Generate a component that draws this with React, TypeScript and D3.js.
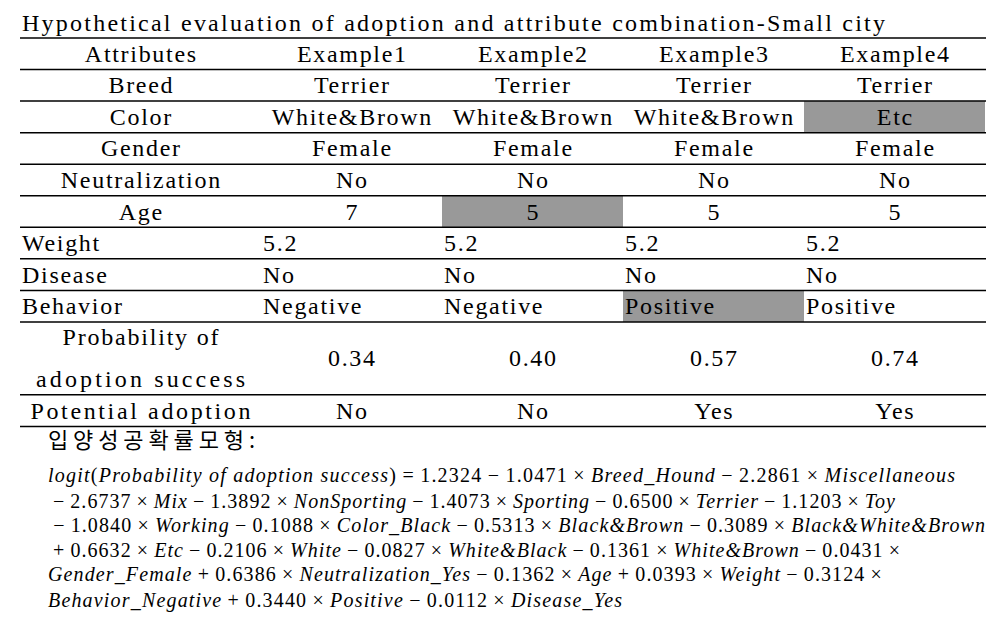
import React from "react";
import * as d3 from "d3";

// ---------- data ----------
const title = "Hypothetical evaluation of adoption and attribute combination-Small city";
const headerLabel = "Attributes";
const examples = ["Example1", "Example2", "Example3", "Example4"];
const attributes = ["Breed", "Color", "Gender", "Neutralization", "Age", "Weight", "Disease", "Behavior"];
const breed = ["Terrier", "Terrier", "Terrier", "Terrier"];
const color = ["White&Brown", "White&Brown", "White&Brown", "Etc"];
const gender = ["Female", "Female", "Female", "Female"];
const neutralization = ["No", "No", "No", "No"];
const age = [7, 5, 5, 5];
const weight = [5.2, 5.2, 5.2, 5.2];
const disease = ["No", "No", "No", "No"];
const behavior = ["Negative", "Negative", "Positive", "Positive"];
const probabilityLabel = ["Probability of", "adoption success"];
const probability = [0.34, 0.4, 0.57, 0.74];
const potentialLabel = "Potential adoption";
const potential = ["No", "No", "Yes", "Yes"];
const highlighted = [
  { attr: "Color", example: "Example4" },
  { attr: "Age", example: "Example2" },
  { attr: "Behavior", example: "Example3" },
];
const leftAligned = ["Weight", "Disease", "Behavior"];
const modelTitle = "입양성공확률모형:";
const formulaLines = [
  "logit(Probability of adoption success)=1.2324−1.0471×Breed_Hound−2.2861×Miscellaneous",
  "−2.6737×Mix−1.3892×NonSporting−1.4073×Sporting−0.6500×Terrier−1.1203×Toy",
  "−1.0840×Working−0.1088×Color_Black−0.5313×Black&Brown−0.3089×Black&White&Brown",
  "+0.6632×Etc−0.2106×White−0.0827×White&Black−0.1361×White&Brown−0.0431×",
  "Gender_Female+0.6386×Neutralization_Yes−0.1362×Age+0.0393×Weight−0.3124×",
  "Behavior_Negative+0.3440×Positive−0.0112×Disease_Yes",
];

// ---------- layout ----------
const W = 998;
const H = 620;
const tableLeft = 20;
const tableRight = 986;
const attrColRight = 261;
const tableTop = 38;
const unitRow = 31.55;
const probRowUnits = 2.31;
const FONT = "Liberation Serif, DejaVu Serif, Noto Serif, Times New Roman, serif";
const FS = 24;
const LS = 1.7;
const GRAY = "#999999";
const formulaWidths = [907, 847, 937, 857, 839, 574];
const formulaBaselines = [482, 508, 532, 557, 581, 607];

const valuesByAttr: Record<string, (string | number)[]> = {
  Breed: breed,
  Color: color,
  Gender: gender,
  Neutralization: neutralization,
  Age: age,
  Weight: weight,
  Disease: disease,
  Behavior: behavior,
};

function tokenize(line: string) {
  const re = /[A-Za-z_&]+(?: [A-Za-z_&]+)*|\d+\.\d+|[−+=×()]/g;
  const out: { t: string; italic: boolean }[] = [];
  let m: RegExpExecArray | null;
  while ((m = re.exec(line))) {
    const t = m[0];
    const italic = /[A-Za-z]/.test(t);
    if (/^[−+=×]$/.test(t)) out.push({ t: "\u2009" + t + "\u2009", italic: false });
    else out.push({ t, italic });
  }
  return out;
}

export default function App() {
  const x = d3.scaleBand<string>().domain(examples).range([attrColRight, tableRight - 1]).paddingInner(0).paddingOuter(0);

  const rowKeys = ["header", ...attributes, "probability", "potential"];
  const rowUnits = rowKeys.map((k) => (k === "probability" ? probRowUnits : 1));
  const cum = [0, ...Array.from(d3.cumsum(rowUnits))];
  const yScale = d3.scaleLinear().domain([0, 1]).range([tableTop, tableTop + unitRow]);
  const rowTop = (i: number) => yScale(cum[i]);
  const rowBot = (i: number) => yScale(cum[i + 1]);
  const rowMid = (i: number) => (rowTop(i) + rowBot(i)) / 2;

  const fmt = d3.format(".2f");
  const attrMid = (tableLeft + attrColRight) / 2;

  const serif = { fontFamily: FONT, fontSize: FS, fill: "#000" } as React.CSSProperties;
  const spaced = { ...serif, letterSpacing: LS } as React.CSSProperties;
  const midShift = LS / 2;

  return (
    <svg width={W} height={H} style={{ position: "absolute", left: 0, top: 0, background: "#fff" }}>
      <rect width={W} height={H} fill="#fff" />
      <text x={22} y={31} style={serif} textLength={863} lengthAdjust="spacing">
        {title}
      </text>

      {/* highlighted cells */}
      {highlighted.map((h) => {
        const ri = rowKeys.indexOf(h.attr);
        return (
          <rect
            key={h.attr + h.example}
            x={x(h.example)}
            y={rowTop(ri)}
            width={x.bandwidth()}
            height={rowBot(ri) - rowTop(ri)}
            fill={GRAY}
          />
        );
      })}

      {/* horizontal rules */}
      {cum.map((c, i) => (
        <line key={i} x1={tableLeft} x2={tableRight} y1={yScale(c)} y2={yScale(c)} stroke="#000" strokeWidth={1.5} />
      ))}

      {/* header row */}
      <text x={attrMid + midShift} y={rowMid(0) + 8} textAnchor="middle" style={spaced}>
        {headerLabel}
      </text>
      {examples.map((e) => (
        <text key={e} x={(x(e) as number) + x.bandwidth() / 2 + midShift} y={rowMid(0) + 8} textAnchor="middle" style={spaced}>
          {e}
        </text>
      ))}

      {/* attribute rows */}
      {attributes.map((a, ai) => {
        const ri = ai + 1;
        const left = leftAligned.includes(a);
        const yb = rowMid(ri) + 8;
        return (
          <g key={a}>
            <text x={left ? tableLeft + 2 : attrMid + midShift} y={yb} textAnchor={left ? "start" : "middle"} style={spaced}>
              {a}
            </text>
            {valuesByAttr[a].map((v, j) => {
              const e = examples[j];
              const cx = left ? (x(e) as number) + 2 : (x(e) as number) + x.bandwidth() / 2 + midShift;
              return (
                <text key={e} x={cx} y={yb} textAnchor={left ? "start" : "middle"} style={spaced}>
                  {String(v)}
                </text>
              );
            })}
          </g>
        );
      })}

      {/* probability row */}
      {(() => {
        const ri = rowKeys.indexOf("probability");
        const m = rowMid(ri);
        return (
          <g>
            <text x={attrMid} y={m - 13} textAnchor="middle" style={serif} textLength={156} lengthAdjust="spacing">
              {probabilityLabel[0]}
            </text>
            <text x={attrMid} y={m + 29} textAnchor="middle" style={serif} textLength={209} lengthAdjust="spacing">
              {probabilityLabel[1]}
            </text>
            {probability.map((p, j) => (
              <text key={j} x={(x(examples[j]) as number) + x.bandwidth() / 2 + midShift} y={m + 7.5} textAnchor="middle" style={spaced}>
                {fmt(p)}
              </text>
            ))}
          </g>
        );
      })()}

      {/* potential row */}
      {(() => {
        const ri = rowKeys.indexOf("potential");
        const yb = rowMid(ri) + 8;
        return (
          <g>
            <text x={attrMid} y={yb} textAnchor="middle" style={serif} textLength={220} lengthAdjust="spacing">
              {potentialLabel}
            </text>
            {potential.map((p, j) => (
              <text key={j} x={(x(examples[j]) as number) + x.bandwidth() / 2 + midShift} y={yb} textAnchor="middle" style={spaced}>
                {p}
              </text>
            ))}
          </g>
        );
      })()}

      {/* model */}
      <text x={48} y={448} style={{ fontFamily: "Noto Sans CJK KR, sans-serif", fontSize: 22, fill: "#000" }} textLength={207} lengthAdjust="spacing">
        {modelTitle}
      </text>
      {formulaLines.map((line, i) => (
        <text
          key={i}
          x={48}
          y={formulaBaselines[i]}
          style={{ fontFamily: FONT, fontSize: 20, fill: "#000" }}
          textLength={formulaWidths[i]}
          lengthAdjust="spacing"
        >
          {tokenize(line).map((tk, k) => (
            <tspan key={k} style={{ fontStyle: tk.italic ? "italic" : "normal" }}>
              {tk.t}
            </tspan>
          ))}
        </text>
      ))}
    </svg>
  );
}
